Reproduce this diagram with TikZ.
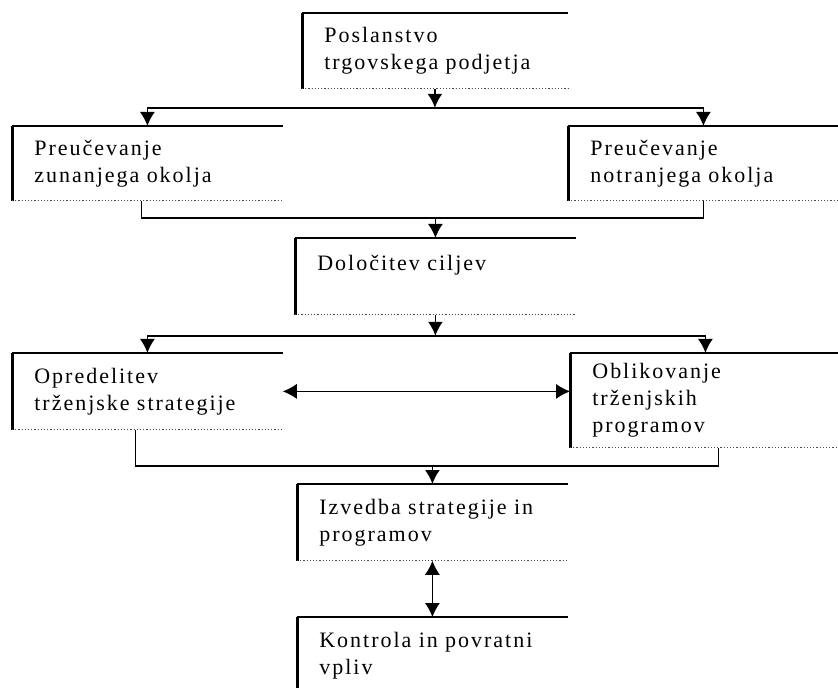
\documentclass[tikz,border=0pt]{standalone}
\usepackage{fontspec}
\setmainfont[LetterSpace=9]{Liberation Serif}
\usetikzlibrary{arrows.meta,calc}
\tikzstyle{pbox} = [anchor=north west, inner xsep=11pt, inner ysep=0pt,
  minimum width=135pt, text width=113pt, minimum height=38pt, align=left,
  font=\fontsize{11pt}{13.5pt}\selectfont]
\tikzstyle{conn} = [line width=0.85pt]

\begin{document}
\begin{tikzpicture}[x=0.5pt,y=-0.5pt,>={Latex[length=7pt,width=7.5pt]}]
  \useasboundingbox (0,0) rectangle (838,688);
  % boxes
  \node[pbox, minimum width=132.5pt, text width=110.5pt, minimum height=37.5pt] (posl) at (302,13) {Poslanstvo\\trgovskega podjetja};
  \node[pbox, minimum height=37pt] (zun) at (12,126) {Preučevanje\\zunanjega okolja};
  \node[pbox, minimum height=37pt] (not) at (568,126) {Preučevanje\\notranjega okolja};
  \node[pbox, minimum width=140pt, text width=118pt] (cilj) at (295,238) {Določitev ciljev\\ \mbox{}};
  \node[pbox] (opr) at (12,353) {Opredelitev\\trženjske strategije};
  \node[pbox, minimum height=47pt] (obl) at (570,353) {Oblikovanje\\trženjskih\\programov};
  \node[pbox] (izv) at (297,484) {Izvedba strategije in\\programov};
  \node[pbox] (kon) at (297,617) {Kontrola in povratni\\vpliv};
  \foreach \b in {posl,zun,not,cilj,opr,obl,izv,kon} {
    \draw[line width=1.5pt] (\b.north west) -- (\b.south west);
    \draw[line width=0.75pt] (\b.north west) -- (\b.north east);
    \draw[black!70, densely dotted, line width=0.6pt] (\b.south west) -- (\b.south east);
  }
  % branch points
  \path (posl.south) ++(0,19) coordinate (fork1);
  \path (cilj.north) ++(0,-20) coordinate (join1);
  \path (cilj.south) ++(0,21) coordinate (fork2);
  \path (izv.north) ++(0,-18) coordinate (join2);
  % connectors
  \draw[conn,->] (posl.south) -- (fork1);
  \draw[conn,->] (fork1) -| (zun.north);
  \draw[conn,->] (fork1) -| (not.north);
  \draw[conn] ($(zun.south)+(-6,0)$) |- (join1) -| (not.south);
  \draw[conn,->] (join1) -- (cilj.north);
  \draw[conn,->] (cilj.south) -- (fork2);
  \draw[conn,->] (fork2) -| (opr.north);
  \draw[conn,->] (fork2) -| (obl.north);
  \draw[line width=0.5pt,<->] (opr.east) -- (opr.east -| obl.west);
  \draw[conn] ($(opr.south)+(-12,0)$) |- (join2) -| ($(obl.south)+(13,0)$);
  \draw[conn,->] (join2) -- (izv.north);
  \draw[line width=0.5pt,<->] (izv.south) -- (kon.north);
\end{tikzpicture}
\end{document}
